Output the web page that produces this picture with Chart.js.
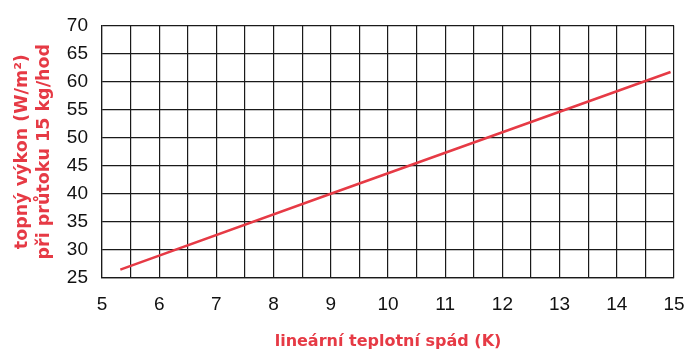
<!DOCTYPE html>
<html lang="cs">
<head>
<meta charset="utf-8">
<title>Topný výkon</title>
<script src="https://cdn.jsdelivr.net/npm/chart.js@4"></script>
<style>
  html, body { margin: 0; padding: 0; background: #fff; }
  #wrap { width: 691px; height: 353px; }
</style>
</head>
<body>
<div id="wrap"><canvas id="chart" width="691" height="353"></canvas></div>
<script>
// linear temperature drop (K) vs heating output (W/m2)
const spad = [5.32, 9, 14.94];
const vykon = [26.5, 40, 61.7];

const X_MIN = 5, X_MAX = 15, X_STEP = 0.5;
const Y_MIN = 25, Y_MAX = 70, Y_STEP = 5;

const Y_TITLE = ["topný výkon (W/m²)", "při průtoku 15 kg/hod"];
const X_TITLE = "lineární teplotní spád (K)";

const RED = "#e63a45";
const GRID = "#1a1a1a";
const tickFont = {family: "'Liberation Sans', Arial, sans-serif", size: 19};
const xTitleFont = {family: "'DejaVu Sans', sans-serif", size: 16, weight: "bold", lineHeight: 1.35};
const yTitleFont = {family: "'DejaVu Sans', sans-serif", size: 17.5, weight: "bold", lineHeight: 1.26};

const points = spad.map((x, i) => ({x, y: vykon[i]}));

new Chart(document.getElementById("chart"), {
  type: "scatter",
  data: {
    datasets: [{
      data: points,
      showLine: true,
      borderColor: RED,
      borderWidth: 2.5,
      pointRadius: 0,
      tension: 0
    }]
  },
  options: {
    responsive: false,
    animation: false,
    devicePixelRatio: 1,
    layout: {padding: {top: 22, right: 17, left: 0, bottom: 0}},
    plugins: {legend: {display: false}, tooltip: {enabled: false}},
    scales: {
      x: {
        type: "linear",
        min: X_MIN,
        max: X_MAX,
        // fixed axis height; end labels may hang over the padding
        afterFit: s => { s.height = 75; s.paddingLeft = 0; s.paddingRight = 0; },
        ticks: {
          stepSize: X_STEP,
          autoSkip: false,
          maxRotation: 0,
          padding: 15,
          color: "#111",
          font: tickFont,
          callback: v => Number.isInteger(v) ? String(v) : ""
        },
        grid: {color: GRID, lineWidth: 1.2, drawTicks: false},
        border: {color: GRID, width: 1.2},
        title: {display: true, text: X_TITLE, color: RED, font: xTitleFont, padding: {top: 0, bottom: 0}}
      },
      y: {
        min: Y_MIN,
        max: Y_MAX,
        afterFit: s => { s.width = 102; },
        ticks: {
          stepSize: Y_STEP,
          padding: 14,
          color: "#111",
          font: tickFont
        },
        grid: {color: GRID, lineWidth: 1.2, drawTicks: false},
        border: {color: GRID, width: 1.2},
        title: {display: true, text: Y_TITLE, color: RED, font: yTitleFont, padding: {top: 11, bottom: 0}}
      }
    }
  }
});
</script>
</body>
</html>
